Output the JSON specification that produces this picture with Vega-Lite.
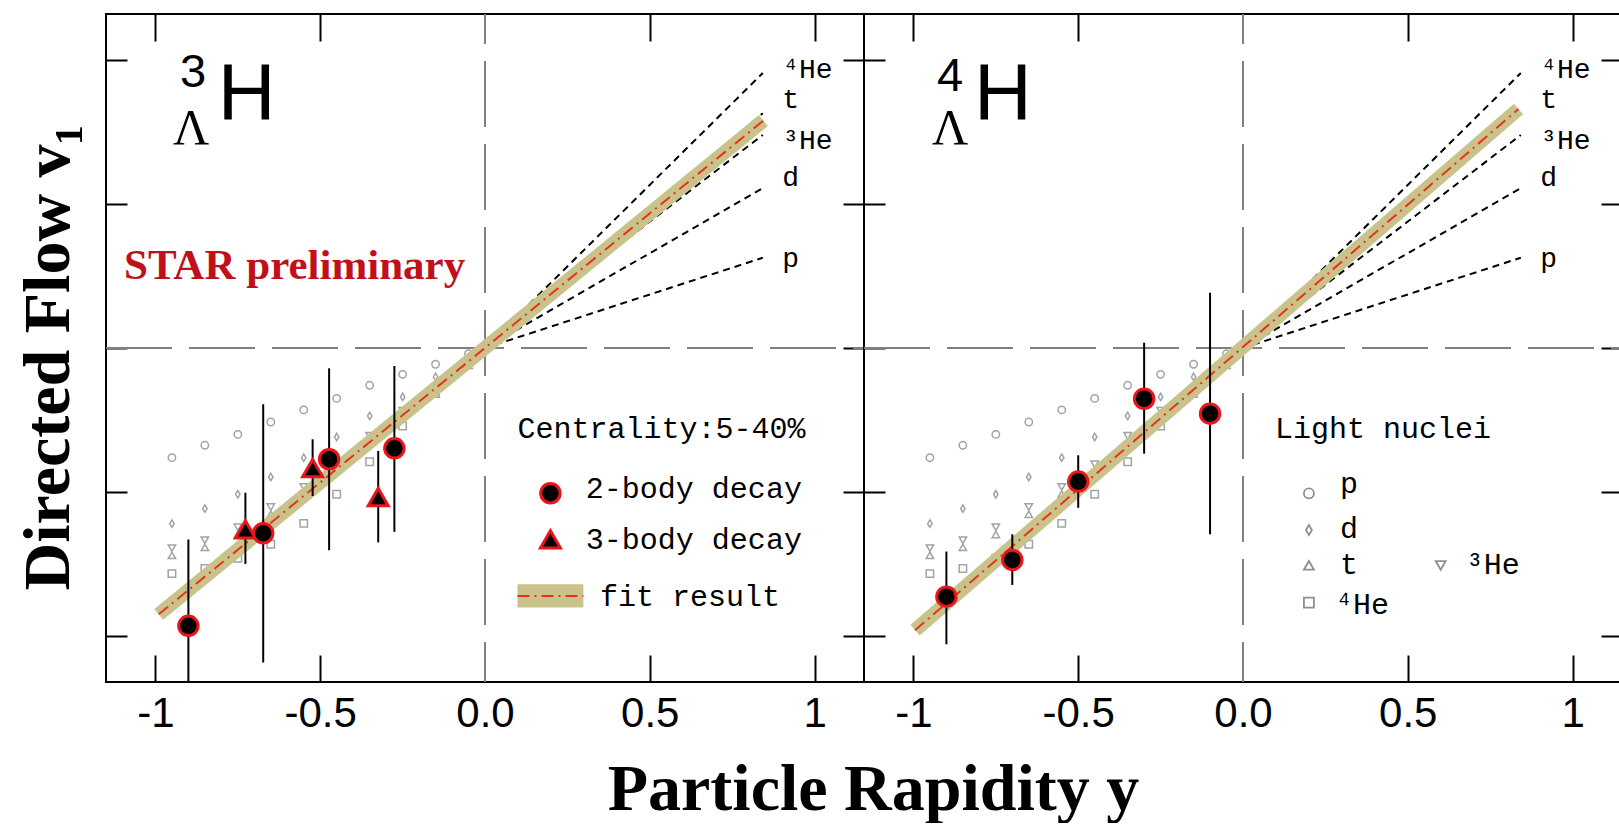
{
  "$schema": "https://vega.github.io/schema/vega-lite/v6.json",
  "background": "white",
  "padding": {"left": 13, "top": 12, "right": 0, "bottom": 0},
  "spacing": 0,
  "bounds": "flush",
  "datasets": {
    "hline": [{"x": -1.15, "x2": 1.15, "v": 0}],
    "vline": [{"x": 0, "v": 0.232, "v2": -0.232}],
    "nuclei": [
      {"x": -0.95, "v": -0.0762, "sp": "p"}, {"x": -0.85, "v": -0.0676, "sp": "p"}, {"x": -0.75, "v": -0.060, "sp": "p"}, {"x": -0.65, "v": -0.0514, "sp": "p"}, {"x": -0.55, "v": -0.043, "sp": "p"}, {"x": -0.45, "v": -0.035, "sp": "p"}, {"x": -0.35, "v": -0.0259, "sp": "p"}, {"x": -0.25, "v": -0.0183, "sp": "p"}, {"x": -0.15, "v": -0.0113, "sp": "p"}, {"x": -0.05, "v": -0.004, "sp": "p"},
      {"x": -0.95, "v": -0.122, "sp": "d"}, {"x": -0.85, "v": -0.1116, "sp": "d"}, {"x": -0.75, "v": -0.1016, "sp": "d"}, {"x": -0.65, "v": -0.0896, "sp": "d"}, {"x": -0.55, "v": -0.0762, "sp": "d"}, {"x": -0.45, "v": -0.0618, "sp": "d"}, {"x": -0.35, "v": -0.0472, "sp": "d"}, {"x": -0.25, "v": -0.034, "sp": "d"}, {"x": -0.15, "v": -0.0201, "sp": "d"}, {"x": -0.05, "v": -0.007, "sp": "d"},
      {"x": -0.95, "v": -0.144, "sp": "t"}, {"x": -0.85, "v": -0.1385, "sp": "t"}, {"x": -0.75, "v": -0.1295, "sp": "t"}, {"x": -0.65, "v": -0.1155, "sp": "t"}, {"x": -0.55, "v": -0.1015, "sp": "t"}, {"x": -0.45, "v": -0.085, "sp": "t"}, {"x": -0.35, "v": -0.066, "sp": "t"}, {"x": -0.25, "v": -0.047, "sp": "t"}, {"x": -0.15, "v": -0.032, "sp": "t"}, {"x": -0.05, "v": -0.012, "sp": "t"},
      {"x": -0.95, "v": -0.139, "sp": "3He"}, {"x": -0.85, "v": -0.1335, "sp": "3He"}, {"x": -0.75, "v": -0.1245, "sp": "3He"}, {"x": -0.65, "v": -0.1105, "sp": "3He"}, {"x": -0.55, "v": -0.0965, "sp": "3He"}, {"x": -0.45, "v": -0.0808, "sp": "3He"}, {"x": -0.35, "v": -0.061, "sp": "3He"}, {"x": -0.25, "v": -0.0435, "sp": "3He"}, {"x": -0.15, "v": -0.029, "sp": "3He"}, {"x": -0.05, "v": -0.010, "sp": "3He"},
      {"x": -0.95, "v": -0.1567, "sp": "4He"}, {"x": -0.85, "v": -0.1532, "sp": "4He"}, {"x": -0.75, "v": -0.146, "sp": "4He"}, {"x": -0.65, "v": -0.1363, "sp": "4He"}, {"x": -0.55, "v": -0.1218, "sp": "4He"}, {"x": -0.45, "v": -0.1016, "sp": "4He"}, {"x": -0.35, "v": -0.079, "sp": "4He"}, {"x": -0.25, "v": -0.0542, "sp": "4He"}, {"x": -0.15, "v": -0.03, "sp": "4He"}, {"x": -0.05, "v": -0.01, "sp": "4He"}
    ],
    "reflines": [
      {"x": 0.03, "v": 0.0068, "sp": "4He"}, {"x": 0.843, "v": 0.191, "sp": "4He"},
      {"x": 0.03, "v": 0.0058, "sp": "t"}, {"x": 0.843, "v": 0.163, "sp": "t"},
      {"x": 0.03, "v": 0.0053, "sp": "3He"}, {"x": 0.843, "v": 0.148, "sp": "3He"},
      {"x": 0.03, "v": 0.004, "sp": "d"}, {"x": 0.843, "v": 0.111, "sp": "d"},
      {"x": 0.03, "v": 0.0022, "sp": "p"}, {"x": 0.843, "v": 0.0627, "sp": "p"}
    ],
    "lineLabels": [
      {"x": 0.902, "v": 0.1877, "label": "⁴He"},
      {"x": 0.902, "v": 0.1665, "label": "t"},
      {"x": 0.902, "v": 0.1382, "label": "³He"},
      {"x": 0.902, "v": 0.1125, "label": "d"},
      {"x": 0.902, "v": 0.0563, "label": "p"}
    ],
    "fitL": [{"x": -0.99, "v": -0.185}, {"x": 0.845, "v": 0.158}],
    "fitR": [{"x": -0.995, "v": -0.196}, {"x": 0.836, "v": 0.166}],
    "twoL": [
      {"x": -0.9, "v": -0.193, "lo": -0.253, "hi": -0.133},
      {"x": -0.673, "v": -0.1287, "lo": -0.2185, "hi": -0.039},
      {"x": -0.473, "v": -0.0773, "lo": -0.1405, "hi": -0.0141},
      {"x": -0.275, "v": -0.0697, "lo": -0.1277, "hi": -0.0125}
    ],
    "threeL": [
      {"x": -0.727, "v": -0.126, "lo": -0.150, "hi": -0.1005},
      {"x": -0.523, "v": -0.0835, "lo": -0.1028, "hi": -0.0634},
      {"x": -0.324, "v": -0.1035, "lo": -0.135, "hi": -0.0715}
    ],
    "twoR": [
      {"x": -0.9, "v": -0.1727, "lo": -0.2058, "hi": -0.1414},
      {"x": -0.7, "v": -0.1472, "lo": -0.1646, "hi": -0.1294},
      {"x": -0.5, "v": -0.0928, "lo": -0.111, "hi": -0.0745},
      {"x": -0.3, "v": -0.0352, "lo": -0.0734, "hi": 0.0037},
      {"x": -0.1, "v": -0.0456, "lo": -0.1294, "hi": 0.0384}
    ],
    "legTextL": [
      {"x": 0.0985, "v": -0.0625, "label": "Centrality:5-40%"},
      {"x": 0.306, "v": -0.104, "label": "2-body decay"},
      {"x": 0.306, "v": -0.1396, "label": "3-body decay"},
      {"x": 0.349, "v": -0.179, "label": "fit result"}
    ],
    "legCircL": [{"x": 0.1985, "v": -0.1009}],
    "legTriL": [{"x": 0.1985, "v": -0.1329}],
    "legBandL": [{"x": 0.0985, "x2": 0.2985, "v": -0.1641, "v2": -0.1803}],
    "legFitL": [{"x": 0.0985, "x2": 0.2985, "v": -0.1722}],
    "legTextR": [
      {"x": 0.097, "v": -0.0623, "label": "Light nuclei"},
      {"x": 0.294, "v": -0.1005, "label": "p"},
      {"x": 0.294, "v": -0.1317, "label": "d"},
      {"x": 0.294, "v": -0.1572, "label": "t"},
      {"x": 0.676, "v": -0.1572, "label": "³He"},
      {"x": 0.279, "v": -0.185, "label": "⁴He"}
    ],
    "legMarkR": [
      {"x": 0.2, "v": -0.101, "sp": "p"},
      {"x": 0.2, "v": -0.1264, "sp": "d"},
      {"x": 0.2, "v": -0.151, "sp": "t"},
      {"x": 0.6, "v": -0.151, "sp": "3He"},
      {"x": 0.2, "v": -0.1769, "sp": "4He"}
    ],
    "digitL": [{"x": -0.886, "v": 0.1815, "label": "3"}],
    "hL": [{"x": -0.8106, "v": 0.159, "label": "H"}],
    "lamL": [{"x": -0.892, "v": 0.1418, "label": "Λ"}],
    "digitR": [{"x": -0.889, "v": 0.1785, "label": "4"}],
    "hR": [{"x": -0.816, "v": 0.159, "label": "H"}],
    "lamR": [{"x": -0.889, "v": 0.1418, "label": "Λ"}],
    "star": [{"x": -1.0955, "v": 0.0477, "label": "STAR preliminary"}]
  },
  "hconcat": [
    {
      "width": 758,
      "height": 668,
      "encoding": {
        "x": {"field": "x", "type": "quantitative", "scale": {"domain": [-1.15, 1.15], "nice": false, "zero": false}, "axis": null},
        "y": {"field": "v", "type": "quantitative", "scale": {"domain": [-0.232, 0.232], "nice": false, "zero": false}, "axis": null}
      },
      "resolve": {"axis": {"x": "independent", "y": "independent"}},
      "layer": [
        {
          "data": {"name": "hline"},
          "mark": {"type": "rule", "stroke": "#808080", "strokeWidth": 2, "strokeDash": [66, 17]},
          "encoding": {
            "x": {"field": "x", "type": "quantitative", "scale": {"domain": [-1.15, 1.15], "nice": false, "zero": false},
              "axis": {"orient": "bottom", "values": [-1, -0.5, 0, 0.5, 1], "labelExpr": "datum.value == 0 ? '0.0' : (datum.value < 0 ? '-' : '') + toString(abs(datum.value))", "tickSize": -27, "labelPadding": 38, "tickOpacity": {"condition": {"test": "datum.value == 0", "value": 0}, "value": 1},
                "title": "Particle Rapidity y", "titleX": 767, "titleY": 127, "titleBaseline": "alphabetic", "titleAlign": "center", "titleFont": "Liberation Serif", "titleFontSize": 66, "titleFontWeight": "bold", "titleColor": "black"}},
            "x2": {"field": "x2"},
            "y": {"field": "v", "type": "quantitative", "scale": {"domain": [-0.232, 0.232], "nice": false, "zero": false},
              "axis": {"orient": "left", "values": [-0.2, -0.1, 0, 0.1, 0.2], "labels": false, "tickSize": -21,
                "title": "Directed Flow v₁", "titleX": -38, "titleY": 343, "titleAngle": 270, "titleBaseline": "alphabetic", "titleAlign": "center", "titleFont": "Liberation Serif", "titleFontSize": 66, "titleFontWeight": "bold", "titleColor": "black"}}
          }
        },
        {
          "data": {"name": "vline"},
          "mark": {"type": "rule", "stroke": "#808080", "strokeWidth": 2, "strokeDash": [66, 17], "strokeDashOffset": 36},
          "encoding": {
            "x": {"field": "x", "type": "quantitative", "scale": {"domain": [-1.15, 1.15], "nice": false, "zero": false},
              "axis": {"orient": "top", "values": [-1, -0.5, 0.5, 1], "labels": false, "tickSize": -27, "title": null}},
            "y": {"field": "v", "type": "quantitative", "scale": {"domain": [-0.232, 0.232], "nice": false, "zero": false},
              "axis": {"orient": "right", "values": [-0.2, -0.1, 0, 0.1, 0.2], "labels": false, "tickSize": -21, "title": null}},
            "y2": {"field": "v2"}
          }
        },
        {
          "data": {"name": "nuclei"},
          "mark": {"type": "point", "filled": false, "color": "#a3a3a3", "strokeWidth": 1.5, "size": 55, "opacity": 1},
          "encoding": {"shape": {"field": "sp", "type": "nominal", "scale": {"domain": ["p", "d", "t", "3He", "4He"], "range": ["circle", "M0,-1L0.6,0L0,1L-0.6,0Z", "triangle-up", "triangle-down", "square"]}, "legend": null}}
        },
        {
          "data": {"name": "reflines"},
          "mark": {"type": "line", "color": "black", "strokeWidth": 2, "strokeDash": [7, 5]},
          "encoding": {"detail": {"field": "sp", "type": "nominal"}}
        },
        {
          "data": {"name": "fitL"},
          "mark": {"type": "line", "color": "#c9c38b", "strokeWidth": 14, "strokeCap": "butt"},
          "encoding": {}
        },
        {
          "data": {"name": "fitL"},
          "mark": {"type": "line", "color": "#e8321e", "strokeWidth": 2, "strokeDash": [12, 5, 2, 5]},
          "encoding": {}
        },
        {
          "data": {"name": "twoL"},
          "mark": {"type": "rule", "color": "black", "strokeWidth": 2, "clip": true},
          "encoding": {"y": {"field": "lo", "type": "quantitative", "scale": {"domain": [-0.232, 0.232], "nice": false, "zero": false}, "axis": null}, "y2": {"field": "hi"}}
        },
        {
          "data": {"name": "threeL"},
          "mark": {"type": "rule", "color": "black", "strokeWidth": 2, "clip": true},
          "encoding": {"y": {"field": "lo", "type": "quantitative", "scale": {"domain": [-0.232, 0.232], "nice": false, "zero": false}, "axis": null}, "y2": {"field": "hi"}}
        },
        {
          "data": {"name": "threeL"},
          "mark": {"type": "point", "shape": "triangle-up", "filled": true, "fill": "black", "stroke": "#e8151b", "strokeWidth": 3, "size": 400, "opacity": 1}
        },
        {
          "data": {"name": "twoL"},
          "mark": {"type": "point", "shape": "circle", "filled": true, "fill": "black", "stroke": "#e8151b", "strokeWidth": 3, "size": 380, "opacity": 1}
        },
        {
          "data": {"name": "lineLabels"},
          "mark": {"type": "text", "font": "Liberation Mono", "fontSize": 28, "align": "left", "baseline": "alphabetic", "color": "black"},
          "encoding": {"text": {"field": "label"}}
        },
        {
          "data": {"name": "legTextL"},
          "mark": {"type": "text", "font": "Liberation Mono", "fontSize": 30, "align": "left", "baseline": "alphabetic", "color": "black"},
          "encoding": {"text": {"field": "label"}}
        },
        {
          "data": {"name": "legBandL"},
          "mark": {"type": "rect", "color": "#c9c38b"},
          "encoding": {"x2": {"field": "x2"}, "y2": {"field": "v2"}}
        },
        {
          "data": {"name": "legFitL"},
          "mark": {"type": "rule", "color": "#e8321e", "strokeWidth": 2, "strokeDash": [12, 5, 2, 5]},
          "encoding": {"x2": {"field": "x2"}}
        },
        {
          "data": {"name": "legCircL"},
          "mark": {"type": "point", "shape": "circle", "filled": true, "fill": "black", "stroke": "#e8151b", "strokeWidth": 3, "size": 380, "opacity": 1}
        },
        {
          "data": {"name": "legTriL"},
          "mark": {"type": "point", "shape": "triangle-up", "filled": true, "fill": "black", "stroke": "#e8151b", "strokeWidth": 3, "size": 400, "opacity": 1}
        },
        {
          "data": {"name": "digitL"},
          "mark": {"type": "text", "font": "Liberation Sans", "fontSize": 47, "align": "center", "baseline": "alphabetic", "color": "black"},
          "encoding": {"text": {"field": "label"}}
        },
        {
          "data": {"name": "hL"},
          "mark": {"type": "text", "font": "Liberation Sans", "fontSize": 80, "align": "left", "baseline": "alphabetic", "color": "black"},
          "encoding": {"text": {"field": "label"}}
        },
        {
          "data": {"name": "lamL"},
          "mark": {"type": "text", "font": "Liberation Serif", "fontSize": 50, "align": "center", "baseline": "alphabetic", "color": "black"},
          "encoding": {"text": {"field": "label"}}
        },
        {
          "data": {"name": "star"},
          "mark": {"type": "text", "font": "Liberation Serif", "fontSize": 43, "fontWeight": "bold", "align": "left", "baseline": "alphabetic", "color": "#c0101a"},
          "encoding": {"text": {"field": "label"}}
        }
      ]
    },
    {
      "width": 758,
      "height": 668,
      "encoding": {
        "x": {"field": "x", "type": "quantitative", "scale": {"domain": [-1.15, 1.15], "nice": false, "zero": false}, "axis": null},
        "y": {"field": "v", "type": "quantitative", "scale": {"domain": [-0.232, 0.232], "nice": false, "zero": false}, "axis": null}
      },
      "resolve": {"axis": {"x": "independent", "y": "independent"}},
      "layer": [
        {
          "data": {"name": "hline"},
          "mark": {"type": "rule", "stroke": "#808080", "strokeWidth": 2, "strokeDash": [66, 17]},
          "encoding": {
            "x": {"field": "x", "type": "quantitative", "scale": {"domain": [-1.15, 1.15], "nice": false, "zero": false},
              "axis": {"orient": "bottom", "values": [-1, -0.5, 0, 0.5, 1], "labelExpr": "datum.value == 0 ? '0.0' : (datum.value < 0 ? '-' : '') + toString(abs(datum.value))", "tickSize": -27, "labelPadding": 38, "tickOpacity": {"condition": {"test": "datum.value == 0", "value": 0}, "value": 1}, "title": null}},
            "x2": {"field": "x2"},
            "y": {"field": "v", "type": "quantitative", "scale": {"domain": [-0.232, 0.232], "nice": false, "zero": false},
              "axis": {"orient": "left", "values": [-0.2, -0.1, 0, 0.1, 0.2], "labels": false, "tickSize": -21, "title": null}}
          }
        },
        {
          "data": {"name": "vline"},
          "mark": {"type": "rule", "stroke": "#808080", "strokeWidth": 2, "strokeDash": [66, 17], "strokeDashOffset": 36},
          "encoding": {
            "x": {"field": "x", "type": "quantitative", "scale": {"domain": [-1.15, 1.15], "nice": false, "zero": false},
              "axis": {"orient": "top", "values": [-1, -0.5, 0.5, 1], "labels": false, "tickSize": -27, "title": null}},
            "y": {"field": "v", "type": "quantitative", "scale": {"domain": [-0.232, 0.232], "nice": false, "zero": false},
              "axis": {"orient": "right", "values": [-0.2, -0.1, 0, 0.1, 0.2], "labels": false, "tickSize": -21, "title": null}},
            "y2": {"field": "v2"}
          }
        },
        {
          "data": {"name": "nuclei"},
          "mark": {"type": "point", "filled": false, "color": "#a3a3a3", "strokeWidth": 1.5, "size": 55, "opacity": 1},
          "encoding": {"shape": {"field": "sp", "type": "nominal", "scale": {"domain": ["p", "d", "t", "3He", "4He"], "range": ["circle", "M0,-1L0.6,0L0,1L-0.6,0Z", "triangle-up", "triangle-down", "square"]}, "legend": null}}
        },
        {
          "data": {"name": "reflines"},
          "mark": {"type": "line", "color": "black", "strokeWidth": 2, "strokeDash": [7, 5]},
          "encoding": {"detail": {"field": "sp", "type": "nominal"}}
        },
        {
          "data": {"name": "fitR"},
          "mark": {"type": "line", "color": "#c9c38b", "strokeWidth": 14, "strokeCap": "butt"},
          "encoding": {}
        },
        {
          "data": {"name": "fitR"},
          "mark": {"type": "line", "color": "#e8321e", "strokeWidth": 2, "strokeDash": [12, 5, 2, 5]},
          "encoding": {}
        },
        {
          "data": {"name": "twoR"},
          "mark": {"type": "rule", "color": "black", "strokeWidth": 2, "clip": true},
          "encoding": {"y": {"field": "lo", "type": "quantitative", "scale": {"domain": [-0.232, 0.232], "nice": false, "zero": false}, "axis": null}, "y2": {"field": "hi"}}
        },
        {
          "data": {"name": "twoR"},
          "mark": {"type": "point", "shape": "circle", "filled": true, "fill": "black", "stroke": "#e8151b", "strokeWidth": 3, "size": 380, "opacity": 1}
        },
        {
          "data": {"name": "lineLabels"},
          "mark": {"type": "text", "font": "Liberation Mono", "fontSize": 28, "align": "left", "baseline": "alphabetic", "color": "black"},
          "encoding": {"text": {"field": "label"}}
        },
        {
          "data": {"name": "legTextR"},
          "mark": {"type": "text", "font": "Liberation Mono", "fontSize": 30, "align": "left", "baseline": "alphabetic", "color": "black"},
          "encoding": {"text": {"field": "label"}}
        },
        {
          "data": {"name": "legMarkR"},
          "mark": {"type": "point", "filled": false, "color": "#8f8f8f", "strokeWidth": 1.8, "size": 100, "opacity": 1},
          "encoding": {"shape": {"field": "sp", "type": "nominal", "scale": {"domain": ["p", "d", "t", "3He", "4He"], "range": ["circle", "M0,-1L0.6,0L0,1L-0.6,0Z", "triangle-up", "triangle-down", "square"]}, "legend": null}}
        },
        {
          "data": {"name": "digitR"},
          "mark": {"type": "text", "font": "Liberation Sans", "fontSize": 47, "align": "center", "baseline": "alphabetic", "color": "black"},
          "encoding": {"text": {"field": "label"}}
        },
        {
          "data": {"name": "hR"},
          "mark": {"type": "text", "font": "Liberation Sans", "fontSize": 80, "align": "left", "baseline": "alphabetic", "color": "black"},
          "encoding": {"text": {"field": "label"}}
        },
        {
          "data": {"name": "lamR"},
          "mark": {"type": "text", "font": "Liberation Serif", "fontSize": 50, "align": "center", "baseline": "alphabetic", "color": "black"},
          "encoding": {"text": {"field": "label"}}
        }
      ]
    }
  ],
  "config": {
    "font": "Liberation Sans",
    "view": {"stroke": "black", "strokeWidth": 2},
    "axis": {"grid": false, "domain": false, "tickColor": "black", "tickWidth": 2, "labelFont": "Liberation Sans", "labelFontSize": 42, "labelColor": "black"}
  }
}
